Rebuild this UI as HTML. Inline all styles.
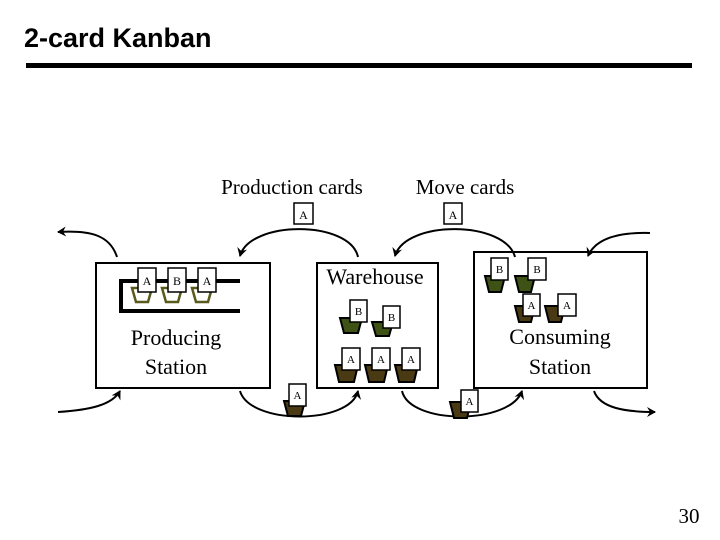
<!DOCTYPE html>
<html><head><style>
html,body{margin:0;padding:0;background:#fff;}
svg{display:block;}
</style></head><body>
<svg width="720" height="540" viewBox="0 0 720 540" xmlns="http://www.w3.org/2000/svg">
<defs>
<marker id="ah" markerWidth="10" markerHeight="10" refX="8" refY="5" orient="auto" markerUnits="userSpaceOnUse">
<path d="M0,0 L9,5 L0,10 L3,5 Z" fill="#000"/>
</marker>
</defs>
<text x="24" y="47" font-family="Liberation Sans, sans-serif" font-size="27" font-weight="bold">2-card Kanban</text>
<rect x="26" y="63" width="666" height="5" fill="#000"/>

<g font-family="Liberation Serif, serif" font-size="21">
<text x="292" y="194" text-anchor="middle">Production cards</text>
<text x="465" y="194" text-anchor="middle">Move cards</text>
</g>

<g fill="none" stroke="#000" stroke-width="2">
<rect x="96" y="263" width="174" height="125" fill="#fff"/>
<rect x="317" y="263" width="121" height="125" fill="#fff"/>
<rect x="474" y="252" width="173" height="136" fill="#fff"/>
</g>
<g font-family="Liberation Serif, serif" font-size="22" text-anchor="middle">
<text x="176" y="345">Producing</text>
<text x="176" y="374">Station</text>
<text x="375" y="284">Warehouse</text>
<text x="560" y="344">Consuming</text>
<text x="560" y="374">Station</text>
</g>

<g fill="none" stroke="#000" stroke-width="2" marker-end="url(#ah)">
<path d="M358,257 C350,220 250,220 240,256"/>
<path d="M515,257 C505,220 405,220 395,256"/>
<path d="M117,257 C110,235 90,230 58,232"/>
<path d="M650,233 C615,232 595,240 588,256"/>
<path d="M240,391 C250,425 350,425 358,391"/>
<path d="M402,391 C410,425 510,425 522,391"/>
<path d="M58,412 C90,410 112,405 120,391"/>
<path d="M594,391 C600,408 625,412 655,412"/>
</g>

<g font-family="Liberation Serif, serif" font-size="12" text-anchor="middle">
<rect x="294" y="203" width="19" height="21" fill="#fff" stroke="#000" stroke-width="1.5"/>
<text x="303.5" y="219">A</text>
<rect x="444" y="203" width="18" height="21" fill="#fff" stroke="#000" stroke-width="1.5"/>
<text x="453" y="219">A</text>
</g>

<path d="M240,281 L121,281 L121,311 L240,311" fill="none" stroke="#000" stroke-width="4"/>
<g fill="none" stroke="#5a5a1e" stroke-width="2.5">
<path d="M132,288 L152,288 L148,302 L136,302 Z"/>
<path d="M162,288 L182,288 L178,302 L166,302 Z"/>
<path d="M192,288 L212,288 L208,302 L196,302 Z"/>
</g>
<g font-family="Liberation Serif, serif" font-size="12" text-anchor="middle">
<rect x="138" y="268" width="18" height="24" fill="#fff" stroke="#000" stroke-width="1.5"/><text x="147" y="285">A</text>
<rect x="168" y="268" width="18" height="24" fill="#fff" stroke="#000" stroke-width="1.5"/><text x="177" y="285">B</text>
<rect x="198" y="268" width="18" height="24" fill="#fff" stroke="#000" stroke-width="1.5"/><text x="207" y="285">A</text>
</g>

<g font-family="Liberation Serif, serif" font-size="11" text-anchor="middle" stroke="#000" stroke-width="2">
<path d="M340,318 L362,318 L358,333 L344,333 Z" fill="#3f5216"/>
<rect x="350" y="300" width="17" height="22" fill="#fff" stroke-width="1.5"/>
<path d="M372,322 L393,322 L389,336 L376,336 Z" fill="#3f5216"/>
<rect x="383" y="306" width="17" height="22" fill="#fff" stroke-width="1.5"/>
<path d="M335,365 L358,365 L354,382 L339,382 Z" fill="#4a3a14"/>
<rect x="342" y="348" width="18" height="22" fill="#fff" stroke-width="1.5"/>
<path d="M365,365 L388,365 L384,382 L369,382 Z" fill="#4a3a14"/>
<rect x="372" y="348" width="18" height="22" fill="#fff" stroke-width="1.5"/>
<path d="M395,365 L418,365 L414,382 L399,382 Z" fill="#4a3a14"/>
<rect x="402" y="348" width="18" height="22" fill="#fff" stroke-width="1.5"/>
<path d="M485,276 L505,276 L501,292 L489,292 Z" fill="#3f5216"/>
<rect x="491" y="258" width="17" height="22" fill="#fff" stroke-width="1.5"/>
<path d="M515,276 L535,276 L531,292 L519,292 Z" fill="#3f5216"/>
<rect x="528" y="258" width="18" height="22" fill="#fff" stroke-width="1.5"/>
<path d="M515,306 L535,306 L531,322 L519,322 Z" fill="#4a3a14"/>
<rect x="523" y="294" width="17" height="22" fill="#fff" stroke-width="1.5"/>
<path d="M545,306 L565,306 L561,322 L549,322 Z" fill="#4a3a14"/>
<rect x="558" y="294" width="18" height="22" fill="#fff" stroke-width="1.5"/>
<path d="M284,401 L305,401 L301,416 L288,416 Z" fill="#4a3a14"/>
<rect x="289" y="384" width="17" height="22" fill="#fff" stroke-width="1.5"/>
<path d="M450,402 L471,402 L467,418 L454,418 Z" fill="#4a3a14"/>
<rect x="461" y="390" width="17" height="22" fill="#fff" stroke-width="1.5"/>
</g>
<g font-family="Liberation Serif, serif" font-size="11" text-anchor="middle">
<text x="358.5" y="315">B</text>
<text x="391.5" y="321">B</text>
<text x="351" y="363">A</text>
<text x="381" y="363">A</text>
<text x="411" y="363">A</text>
<text x="499.5" y="273">B</text>
<text x="537" y="273">B</text>
<text x="531.5" y="309">A</text>
<text x="567" y="309">A</text>
<text x="297.5" y="399">A</text>
<text x="469.5" y="405">A</text>
</g>

<text x="689" y="523" font-family="Liberation Serif, serif" font-size="21" text-anchor="middle">30</text>
</svg>
</body></html>
